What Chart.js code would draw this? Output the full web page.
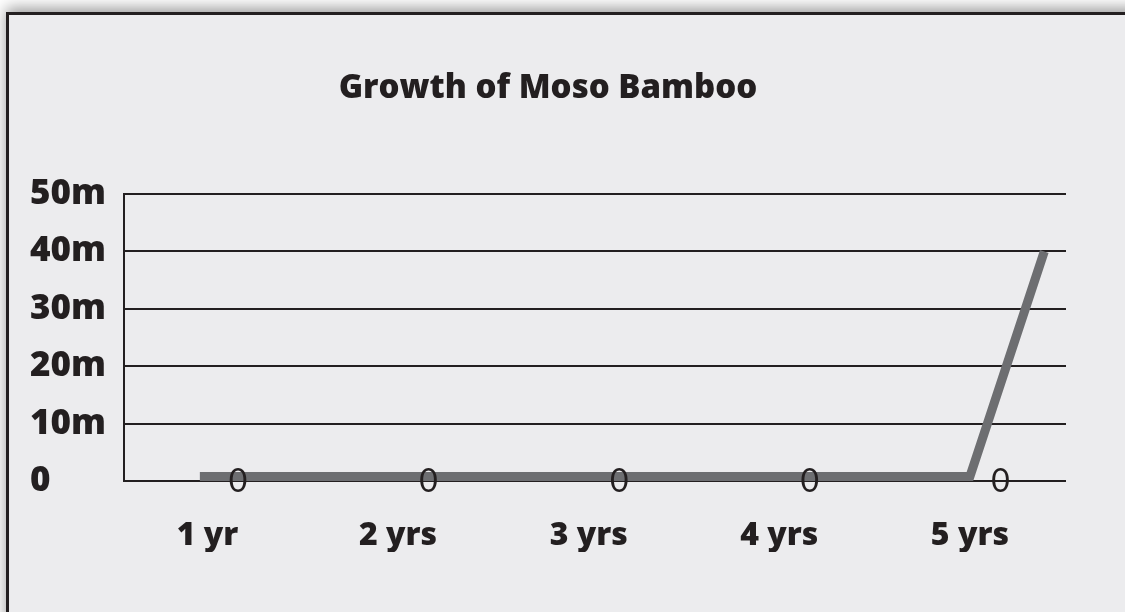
<!DOCTYPE html>
<html>
<head>
<meta charset="utf-8">
<script src="https://cdn.jsdelivr.net/npm/chart.js@4.4.0/dist/chart.umd.min.js"></script>
<style>
html, body { margin: 0; padding: 0; background: #fff; overflow: hidden; }
#frame {
    position: absolute; left: 6px; top: 12px; width: 1200px; height: 700px;
    background: #ececee;
    border-top: 3px solid #231f20; border-left: 3px solid #231f20;
    box-shadow: 0 -4px 14px rgba(0, 0, 0, 0.4);
}
#wrap { position: absolute; left: 0; top: 0; width: 1125px; height: 612px; }
</style>
</head>
<body>
<div id="frame"></div>
<div id="wrap"><canvas id="myChart" width="1125" height="612"></canvas></div>
<script>
var categories = ['1 yr', '2 yrs', '3 yrs', '4 yrs', '5 yrs'];
var valueLabels = [0, 0, 0, 0, 0];
var lineYears = [0.96, 2, 3, 4, 5, 5.39];
var lineHeights = [0.8, 0.8, 0.8, 0.8, 0.8, 40];
var yTickValues = [0, 10, 20, 30, 40, 50];
var yTickLabels = ['0', '10m', '20m', '30m', '40m', '50m'];

var ink = '#231f20';

// the thin "0" labels next to each year
var zeroLabels = {
    id: 'zeroLabels',
    afterDatasetsDraw: function(chart) {
        var ctx = chart.ctx, x = chart.scales.x, y = chart.scales.y;
        ctx.save();
        ctx.font = '32px Lato';
        ctx.fillStyle = ink;
        ctx.textAlign = 'center';
        ctx.textBaseline = 'middle';
        valueLabels.forEach(function(v, i) {
            ctx.fillText(String(v), x.getPixelForValue(i + 1.16), y.getPixelForValue(v) + 1);
        });
        ctx.restore();
    }
};

var ctx = document.getElementById('myChart').getContext('2d');
var myChart = new Chart(ctx, {
    type: 'line',
    data: {
        datasets: [{
            label: 'Height',
            data: lineYears.map(function(yr, i) { return {x: yr, y: lineHeights[i]}; }),
            borderColor: '#6d6e71',
            borderWidth: 9,
            borderCapStyle: 'butt',
            borderJoinStyle: 'miter',
            pointRadius: 0,
            fill: false,
            tension: 0
        }]
    },
    options: {
        responsive: false,
        animation: false,
        layout: {
            padding: {left: 30, right: 59, top: 0, bottom: 60}
        },
        plugins: {
            legend: {display: false},
            tooltip: {enabled: false},
            title: {
                display: true,
                text: 'Growth of Moso Bamboo',
                color: ink,
                font: {family: 'Open Sans', weight: 800, size: 33},
                padding: {top: 69, bottom: 85.5}
            }
        },
        scales: {
            x: {
                type: 'linear',
                min: 0.562,
                max: 5.504,
                grid: {display: false},
                border: {display: false},
                afterBuildTicks: function(s) {
                    s.ticks = categories.map(function(c, i) { return {value: i + 1}; });
                },
                afterFit: function(s) { s.height = 71; },
                ticks: {
                    autoSkip: false,
                    maxRotation: 0,
                    padding: 28,
                    color: ink,
                    font: {family: 'Open Sans', weight: 800, size: 32},
                    callback: function(v, i) { return categories[i]; }
                }
            },
            y: {
                min: 0,
                max: 50,
                afterBuildTicks: function(s) {
                    s.ticks = yTickValues.map(function(v) { return {value: v}; });
                },
                afterFit: function(s) { s.width = 94; },
                grid: {color: ink, lineWidth: 2, drawTicks: false},
                border: {color: ink, width: 2},
                ticks: {
                    crossAlign: 'far',
                    padding: 0,
                    color: ink,
                    font: {family: 'Open Sans', weight: 800, size: 35},
                    callback: function(v, i) { return yTickLabels[i]; }
                }
            }
        }
    },
    plugins: [zeroLabels]
});
</script>
</body>
</html>
